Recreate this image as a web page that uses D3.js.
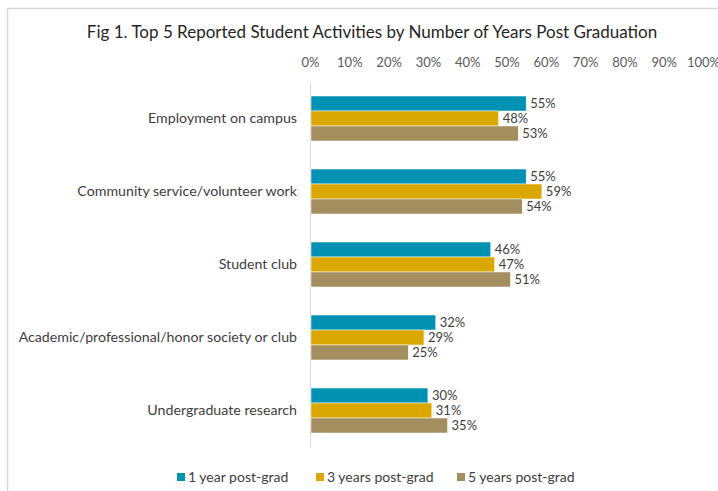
<!DOCTYPE html>
<html><head><meta charset="utf-8">
<script src="https://cdn.jsdelivr.net/npm/d3@7"></script>
<style>
html,body{margin:0;padding:0;background:#fff;}
svg{display:block;font-family:Lato,"Open Sans",sans-serif;}
</style></head>
<body>
<svg id="c" width="718" height="491"></svg>
<script>
const title = "Fig 1. Top 5 Reported Student Activities by Number of Years Post Graduation";
const categories = ["Employment on campus","Community service/volunteer work","Student club","Academic/professional/honor society or club","Undergraduate research"];
const seriesNames = ["1 year post-grad","3 years post-grad","5 years post-grad"];
const oneYear = [55,55,46,32,30];
const threeYears = [48,59,47,29,31];
const fiveYears = [53,54,51,25,35];
const tickValues = [0,10,20,30,40,50,60,70,80,90,100];
const colors = ["#0091B3","#D9A700","#A38E5F"];

const series = [oneYear, threeYears, fiveYears];
const svg = d3.select("#c");

// frame
svg.append("path").attr("d","M7.5,491 V8.5 H718").attr("fill","none").attr("stroke","#d9d9d9").attr("stroke-width",1.5);

const x = d3.scaleLinear().domain([0,100]).range([310,703]);
const y = d3.scaleBand().domain(categories).range([82,447]).paddingInner(0.384).paddingOuter(0.192);
const ySub = d3.scaleBand().domain(d3.range(3)).range([0,y.bandwidth()]);

svg.append("text").attr("x",372).attr("y",38).attr("text-anchor","middle")
  .attr("font-size",17).attr("fill","#262626").text(title);

// top axis
const xAxis = d3.axisTop(x).tickValues(tickValues).tickFormat(d=>d+"%").tickSize(0).tickPadding(0);
const gx = svg.append("g").attr("transform","translate(0,67)").call(xAxis);
gx.select(".domain").remove();
gx.selectAll("text").attr("font-size",13).attr("fill","#595959").attr("font-family","Lato,sans-serif");

// left axis line
svg.append("line").attr("x1",x(0)+0.5).attr("x2",x(0)+0.5).attr("y1",82).attr("y2",447).attr("stroke","#d9d9d9");

// category labels
const yAxis = d3.axisLeft(y).tickSize(0).tickPadding(0);
const gy = svg.append("g").attr("transform","translate(297,0)").call(yAxis);
gy.select(".domain").remove();
gy.selectAll("text").attr("font-size",14.2).attr("fill","#404040").attr("font-family","Lato,sans-serif");

// bars
categories.forEach((c,i)=>{
  series.forEach((s,j)=>{
    svg.append("rect").attr("x",x(0)+1).attr("y",y(c)+ySub(j))
      .attr("width",x(s[i])-x(0)-1).attr("height",ySub.bandwidth())
      .attr("fill",colors[j]).attr("stroke","#fff").attr("stroke-width",0.5);
    svg.append("text").attr("x",x(s[i])+4).attr("y",y(c)+ySub(j)+ySub.bandwidth()/2)
      .attr("dy","0.35em").attr("font-size",13).attr("fill","#404040").text(s[i]+"%");
  });
});

// legend
const legX = [177,316,457];
seriesNames.forEach((n,j)=>{
  svg.append("rect").attr("x",legX[j]).attr("y",473).attr("width",8).attr("height",8).attr("fill",colors[j]);
  svg.append("text").attr("x",legX[j]+11).attr("y",477).attr("dy","0.35em").attr("font-size",14).attr("fill","#404040").text(n);
});
</script>
</body></html>
